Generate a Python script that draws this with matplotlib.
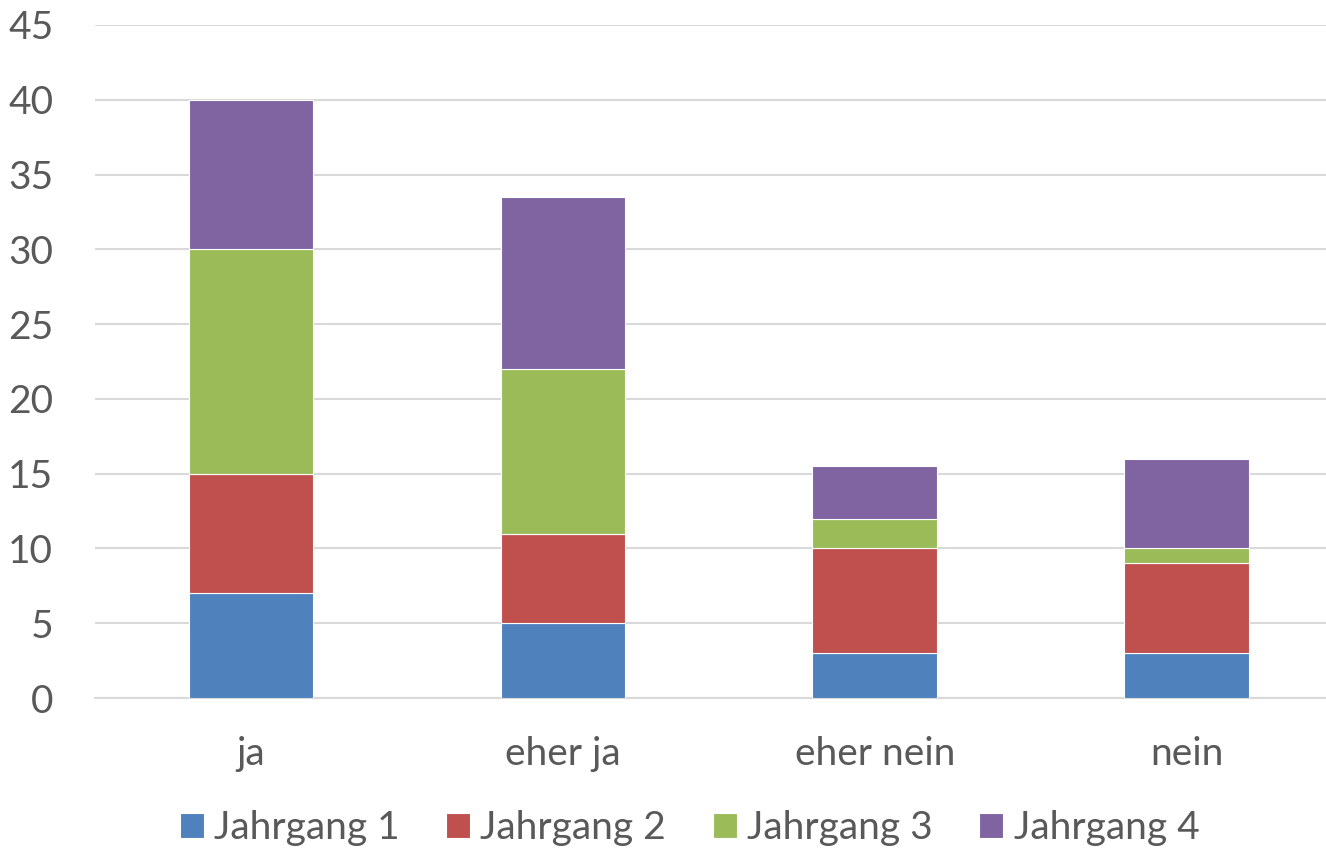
import matplotlib.pyplot as plt
import numpy as np

categories = ["ja", "eher ja", "eher nein", "nein"]
series_names = ["Jahrgang 1", "Jahrgang 2", "Jahrgang 3", "Jahrgang 4"]
jahrgang_1 = [7, 5, 3, 3]
jahrgang_2 = [8, 6, 7, 6]
jahrgang_3 = [15, 11, 2, 1]
jahrgang_4 = [10, 11.5, 3.5, 6]
colors = ["#4F81BD", "#C0504D", "#9BBB59", "#8064A2"]
y_ticks = list(range(0, 50, 5))

TEXT = "#595959"
plt.rcParams["font.family"] = ["Lato", "DejaVu Sans"]

fig = plt.figure(figsize=(13.26, 8.5), dpi=100)
ax = fig.add_axes([0.0716, 0.1788, 0.9284, 0.7918])

x = np.arange(len(categories))
bottom = np.zeros(len(categories))
for name, vals, col in zip(series_names, [jahrgang_1, jahrgang_2, jahrgang_3, jahrgang_4], colors):
    ax.bar(x, vals, width=0.4, bottom=bottom, color=col, label=name,
           edgecolor="white", linewidth=0.8, zorder=3)
    bottom += np.array(vals)

ax.set_ylim(0, 45)
ax.set_xlim(-0.5, 3.446)
ax.set_yticks(y_ticks)
ax.set_xticks(x)
ax.set_xticklabels(categories)
ax.yaxis.grid(True, color="#D9D9D9", linewidth=1.5, zorder=0)
ax.set_axisbelow(True)
for side in ["top", "right", "left"]:
    ax.spines[side].set_visible(False)
ax.spines["bottom"].set_color("#D9D9D9")
ax.spines["bottom"].set_linewidth(1.5)
ax.tick_params(axis="both", length=0, labelsize=28, colors=TEXT)
ax.tick_params(axis="y", pad=30)
ax.tick_params(axis="x", pad=27)

fig.legend(loc="center", bbox_to_anchor=(0.52, 0.026), ncol=4, frameon=False,
           fontsize=28, handlelength=0.62, handleheight=0.62, handletextpad=0.26,
           columnspacing=1.2, labelcolor=TEXT)

fig.savefig("out.png", dpi=100)
